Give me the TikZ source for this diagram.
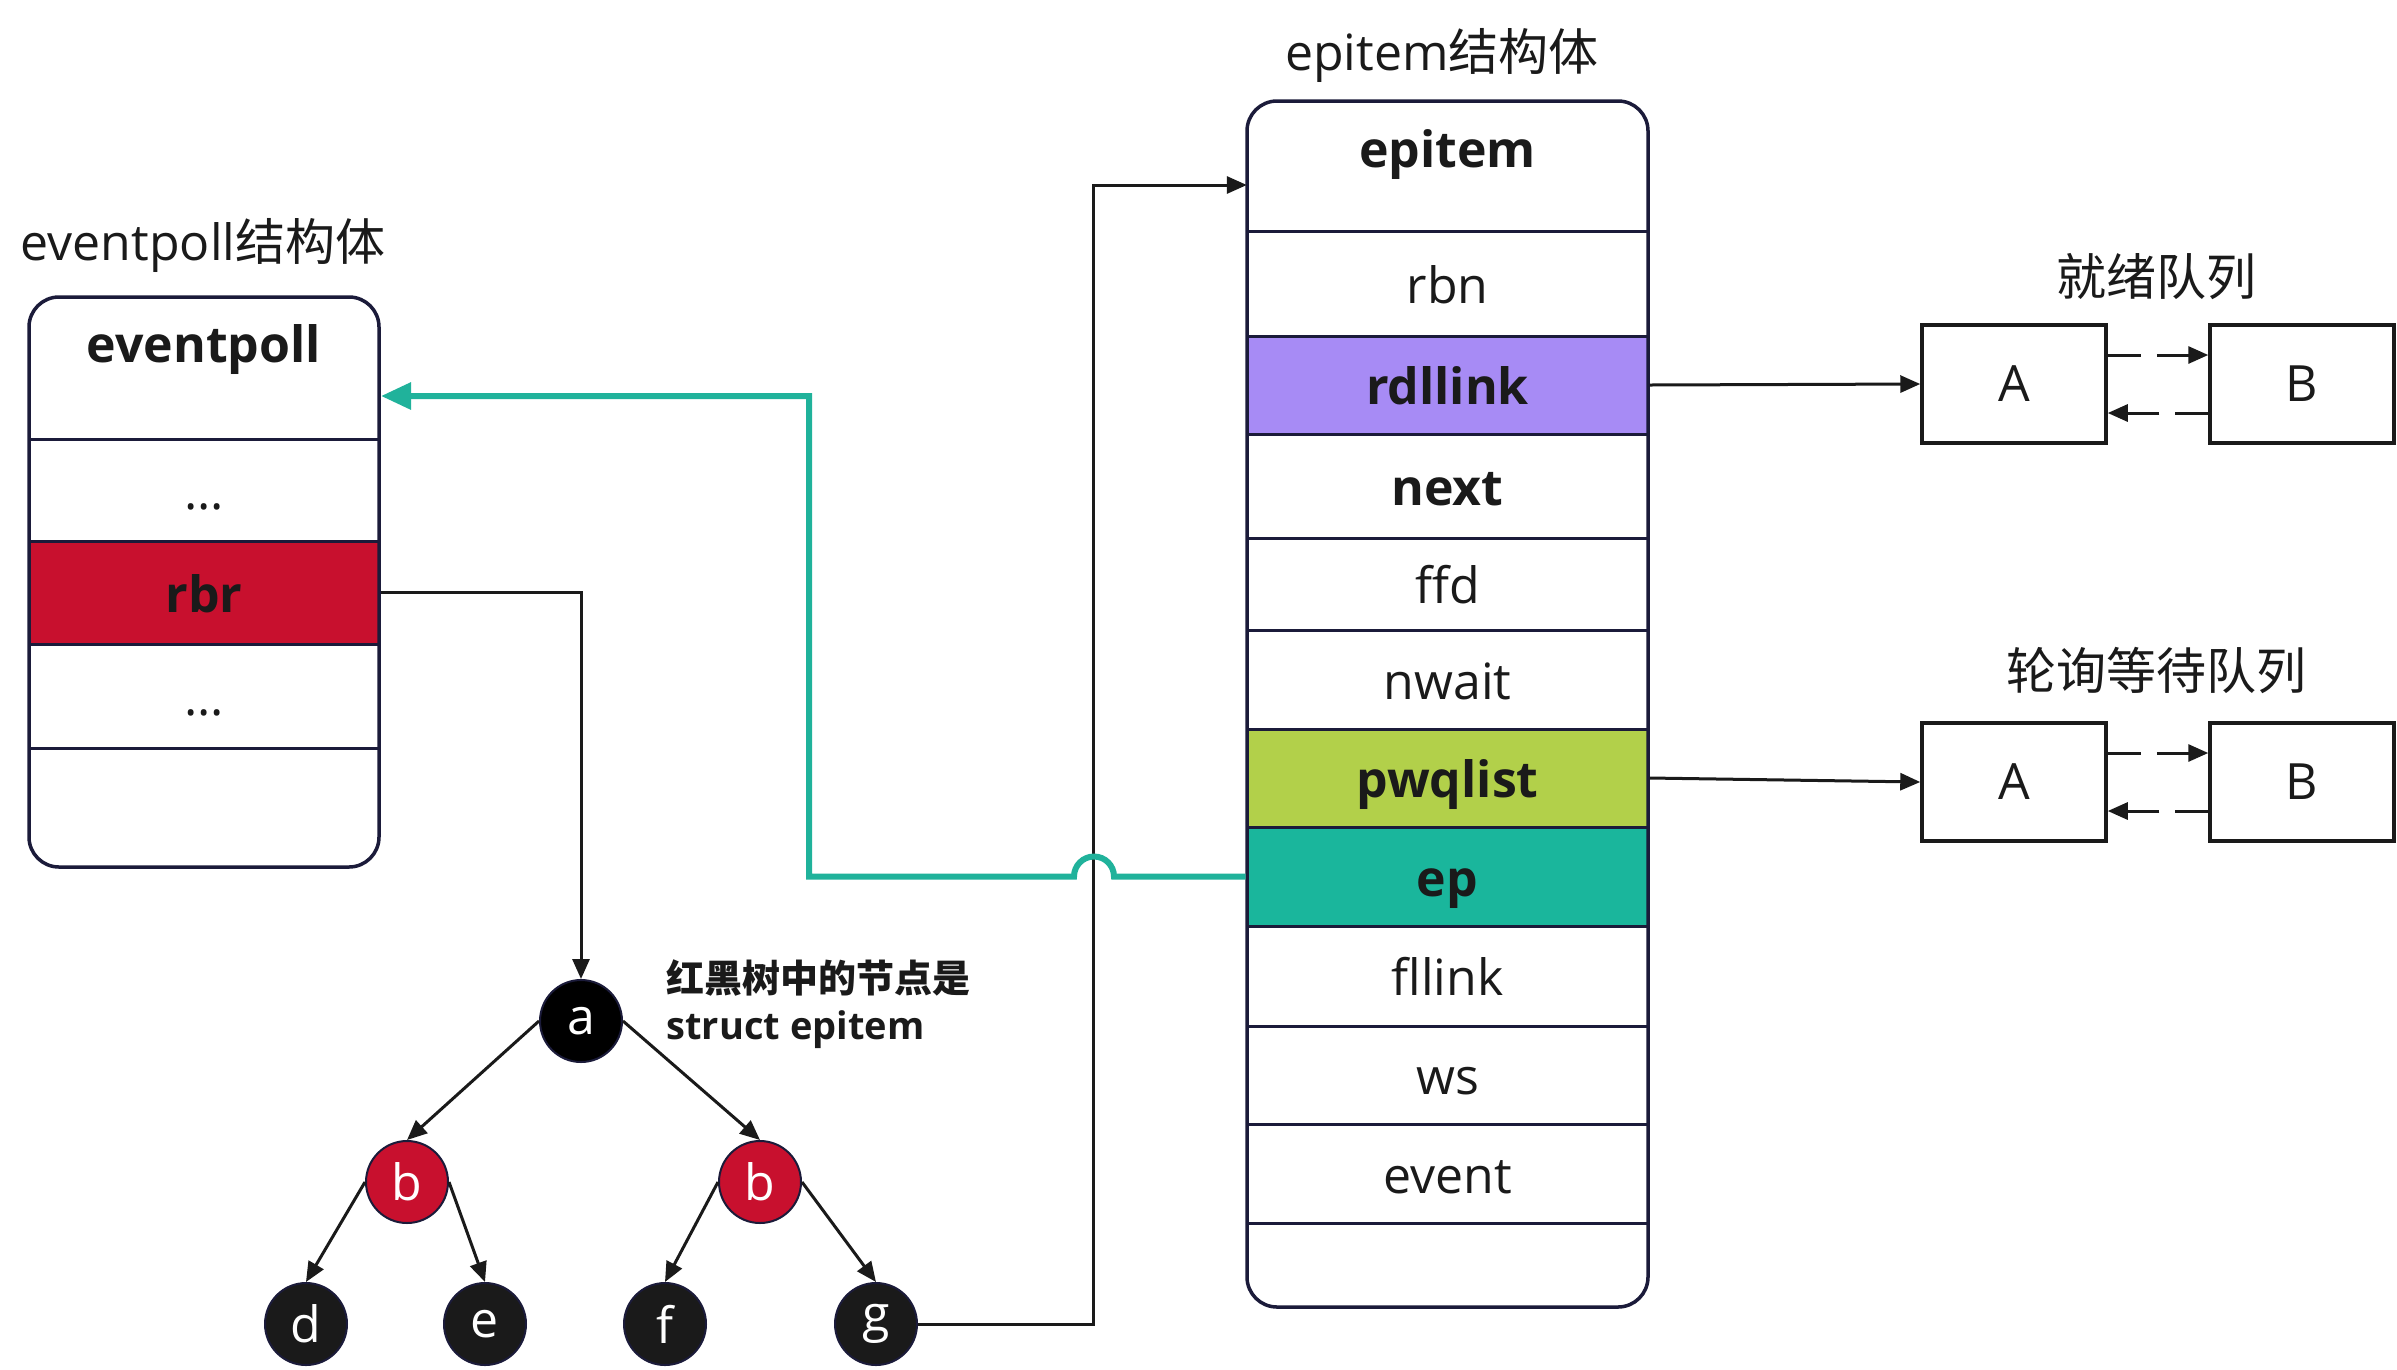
\documentclass[tikz,border=0pt]{standalone}
\usepackage{fontspec}
\setmainfont{Open Sans}
\newfontfamily\cjk{Noto Sans CJK SC}
\usetikzlibrary{arrows.meta,calc}
\definecolor{navy}{HTML}{1B1B3A}
\definecolor{rbred}{HTML}{C8102E}
\definecolor{lav}{HTML}{A78BF5}
\definecolor{lime}{HTML}{B2D04A}
\definecolor{tealc}{HTML}{1AB69C}
\definecolor{tealline}{HTML}{20B29B}
\definecolor{ink}{HTML}{1A1A1A}
\begin{document}
\begin{tikzpicture}[x=1pt,y=-1pt,
  big/.style={font=\fontsize{50}{60}\selectfont, text=ink},
  bigb/.style={font=\fontsize{50}{60}\selectfont\bfseries, text=ink},
  rowbox/.style={draw=navy, line width=3pt, inner sep=0pt, minimum height=#1, text height=44pt, text depth=5pt},
  eprow/.style={rowbox=#1, minimum width=401pt},
  evrow/.style={rowbox=#1, minimum width=350pt},
  outerbox/.style={draw=navy, line width=3.5pt, rounded corners=30pt},
  conn/.style={draw=ink, line width=3pt, -{Triangle[length=20pt,width=17pt]}},
  tealconn/.style={draw=tealline, line width=6pt, -{Triangle[length=30pt,width=26pt]}},
  qbox/.style={draw=ink, line width=3.5pt, minimum width=184pt, minimum height=118pt, inner sep=0pt, font=\fontsize{50}{60}\selectfont, text=ink},
  tnode/.style={circle, draw=navy, line width=2pt, minimum size=82pt, inner sep=0pt, text=white, font=\fontsize{50}{60}\selectfont},
  note/.style={anchor=west, font=\fontsize{38}{46}\selectfont\bfseries, text=ink},
]
\useasboundingbox (0,0) rectangle (2397,1369);
\fill[white] (0,0) rectangle (2397,1369);

% ---------- eventpoll structure ----------
\node[big] (evtitle) at (203,245) {eventpoll{\cjk 结构体}};
\node[inner sep=0pt, minimum width=350pt, minimum height=142pt] (evhdr) at (204,368) {};
\node[bigb] (evname) at (204,350) {eventpoll};
\node[evrow=102pt, big] (evdots1) at (204,490) {...};
\node[evrow=103pt, bigb, fill=rbred] (rbr) at (204,592.5) {rbr};
\node[evrow=104pt, big] (evdots2) at (204,696) {...};
\draw[outerbox] (29,297) rectangle (379,867);
\coordinate (evtip) at (381,396);

% ---------- epitem structure ----------
\node[big] (eptitle) at (1442,55) {epitem{\cjk 结构体}};
\node[inner sep=0pt, minimum width=401pt, minimum height=130pt] (ephdr) at (1447.5,166) {};
\node[bigb] (epname) at (1447.5,155) {epitem};
\node[eprow=105pt, big] (rbn) at (1447.5,283.5) {rbn};
\node[eprow=98pt, bigb, fill=lav] (rdllink) at (1447.5,385) {rdllink};
\node[eprow=104pt, bigb] (next) at (1447.5,486) {next};
\node[eprow=92pt, big] (ffd) at (1447.5,584) {ffd};
\node[eprow=99pt, big] (nwait) at (1447.5,679.5) {nwait};
\node[eprow=98pt, bigb, fill=lime] (pwqlist) at (1447.5,778) {pwqlist};
\node[eprow=99pt, bigb, fill=tealc] (ep) at (1447.5,876.5) {ep};
\node[eprow=100pt, big] (fllink) at (1447.5,976) {fllink};
\node[eprow=98pt, big] (ws) at (1447.5,1075) {ws};
\node[eprow=99pt, big] (event) at (1447.5,1173.5) {event};
\draw[outerbox] (1247,101) rectangle (1648,1307);

% ---------- queues ----------
\node[big] (q1title) at (2156,277) {\cjk 就绪队列};
\node[qbox] (A1) at (2014,384) {A};
\node[qbox] (B1) at (2302,384) {B};
\node[big] (q2title) at (2156,670) {\cjk 轮询等待队列};
\node[qbox] (A2) at (2014,782) {A};
\node[qbox] (B2) at (2302,782) {B};

\draw[conn] (rdllink.east) -- (A1.west);
\draw[conn] (pwqlist.east) -- (A2.west);
\draw[conn, dash pattern=on 33pt off 16pt] ($(A1.east)+(0,-29)$) -- ($(B1.west)+(0,-29)$);
\draw[conn, dash pattern=on 33pt off 16pt] ($(B1.west)+(0,29)$) -- ($(A1.east)+(0,29)$);
\draw[conn, dash pattern=on 33pt off 16pt] ($(A2.east)+(0,-29)$) -- ($(B2.west)+(0,-29)$);
\draw[conn, dash pattern=on 33pt off 16pt] ($(B2.west)+(0,29)$) -- ($(A2.east)+(0,29)$);

% ---------- red-black tree ----------
\node[tnode, fill=black] (a) at (581,1021) {a};
\node[tnode, fill=rbred] (bL) at (407,1182) {b};
\node[tnode, fill=rbred] (bR) at (760,1182) {b};
\node[tnode, fill=ink] (d) at (306,1324) {d};
\node[tnode, fill=ink] (e) at (485,1324) {e};
\node[tnode, fill=ink] (f) at (665,1324) {f};
\node[tnode, fill=ink] (g) at (876,1324) {g};
\node[note] (note1) at (663,978) {\cjk 红黑树中的节点是};
\node[note] (note2) at (663,1030) {struct epitem};

\draw[conn] (a.west) -- (bL.north);
\draw[conn] (a.east) -- (bR.north);
\draw[conn] (bL.west) -- (d.north);
\draw[conn] (bL.east) -- (e.north);
\draw[conn] (bR.west) -- (f.north);
\draw[conn] (bR.east) -- (g.north);

\draw[conn] (rbr.east) -| (a.north);
\draw[conn] (g.east) -| ($(ephdr.west)+(-153,19)$) -- ($(ephdr.west)+(0,19)$);

\draw[tealconn] (ep.west) -- (1114,876.5) arc[start angle=0, end angle=180, radius=20pt] -- (809,876.5) |- (evtip);
\end{tikzpicture}
\end{document}
